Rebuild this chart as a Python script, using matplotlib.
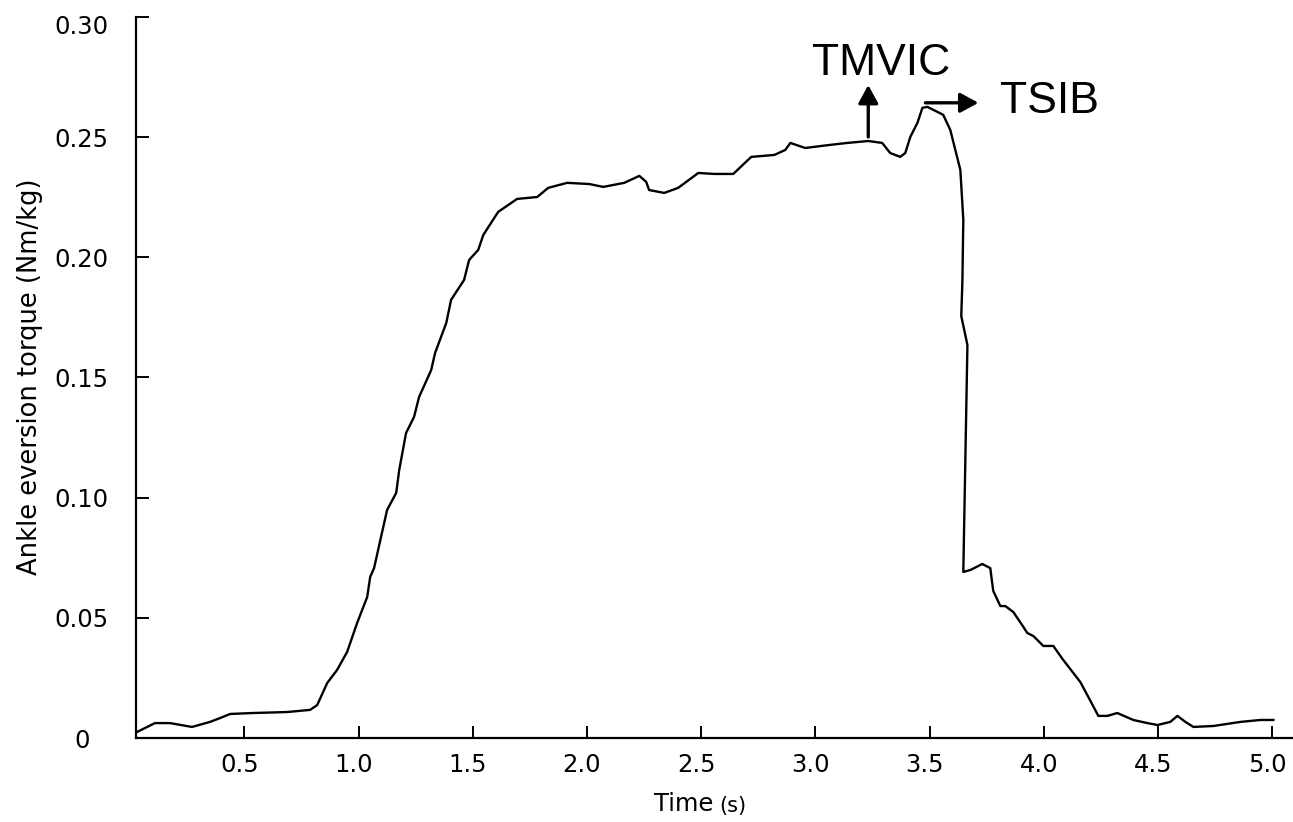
import matplotlib
matplotlib.use("Agg")
import matplotlib.pyplot as plt
from matplotlib.transforms import ScaledTranslation

# ---- data ----
time_s = [0.022, 0.109, 0.175, 0.271, 0.350, 0.394, 0.438, 0.539, 0.687, 0.788,
          0.819, 0.863, 0.906, 0.950, 0.994, 1.038, 1.051, 1.068, 1.125, 1.165,
          1.178, 1.208, 1.243, 1.265, 1.318, 1.335, 1.384, 1.405, 1.462, 1.484,
          1.524, 1.546, 1.611, 1.694, 1.782, 1.830, 1.913, 2.010, 2.071, 2.163,
          2.229, 2.259, 2.272, 2.338, 2.399, 2.487, 2.557, 2.640, 2.719, 2.820,
          2.868, 2.890, 2.955, 3.065, 3.139, 3.231, 3.292, 3.327, 3.371, 3.393,
          3.415, 3.446, 3.468, 3.490, 3.559, 3.590, 3.634, 3.647, 3.643, 3.638,
          3.665, 3.647, 3.678, 3.730, 3.765, 3.778, 3.809, 3.831, 3.866, 3.910,
          3.927, 3.954, 3.997, 4.041, 4.081, 4.159, 4.194, 4.238, 4.278, 4.321,
          4.391, 4.453, 4.497, 4.553, 4.584, 4.619, 4.654, 4.742, 4.860, 4.947,
          5.004]
torque = [0.0021, 0.0062, 0.0062, 0.0046, 0.0067, 0.0083, 0.0100, 0.0104, 0.0108, 0.0117,
          0.0137, 0.0229, 0.0283, 0.0358, 0.0479, 0.0587, 0.0670, 0.0707, 0.0949, 0.1020,
          0.1115, 0.1269, 0.1336, 0.1419, 0.1531, 0.1602, 0.1727, 0.1823, 0.1906, 0.1989,
          0.2031, 0.2093, 0.2189, 0.2243, 0.2251, 0.2289, 0.2310, 0.2305, 0.2293, 0.2310,
          0.2339, 0.2314, 0.2280, 0.2268, 0.2289, 0.2351, 0.2347, 0.2347, 0.2418, 0.2426,
          0.2447, 0.2476, 0.2455, 0.2468, 0.2476, 0.2484, 0.2476, 0.2434, 0.2418, 0.2434,
          0.2501, 0.2559, 0.2622, 0.2626, 0.2593, 0.2530, 0.2364, 0.2156, 0.1900, 0.1756,
          0.1635, 0.0691, 0.0699, 0.0724, 0.0707, 0.0612, 0.0549, 0.0549, 0.0524, 0.0462,
          0.0437, 0.0424, 0.0383, 0.0383, 0.0329, 0.0233, 0.0171, 0.0092, 0.0092, 0.0104,
          0.0075, 0.0062, 0.0054, 0.0067, 0.0092, 0.0067, 0.0046, 0.0050, 0.0067, 0.0075,
          0.0075]

x_ticks = [0.5, 1.0, 1.5, 2.0, 2.5, 3.0, 3.5, 4.0, 4.5, 5.0]
x_tick_labels = ["0.5", "1.0", "1.5", "2.0", "2.5", "3.0", "3.5", "4.0", "4.5", "5.0"]
y_ticks = [0, 0.05, 0.10, 0.15, 0.20, 0.25, 0.30]
y_tick_labels = ["0", "0.05", "0.10", "0.15", "0.20", "0.25", "0.30"]

tmvic_text = (2.986, 0.2759)
tmvic_arrow = ((3.231, 0.2501), (3.231, 0.2717))
tsib_text = (3.809, 0.2601)
tsib_arrow = ((3.481, 0.2643), (3.713, 0.2643))

# ---- figure ----
W, H = 1293, 822
fig = plt.figure(figsize=(W / 100, H / 100), dpi=100)
ax = fig.add_axes([136 / W, 1 - 738 / H, (W - 136) / W, (738 - 17) / H])

ax.plot(time_s, torque, color="black", lw=1.7, solid_joinstyle="round")

ax.set_xlim(0.026, 5.09)
ax.set_ylim(0, 0.30)

for s in ["top", "right"]:
    ax.spines[s].set_visible(False)
for s in ["left", "bottom"]:
    ax.spines[s].set_linewidth(1.6)
    ax.spines[s].set_color("black")

tick_font = "DejaVu Sans"
ax.set_xticks(x_ticks)
ax.set_xticklabels(x_tick_labels, family=tick_font, fontsize=17.5)
ax.set_yticks(y_ticks)
ax.set_yticklabels(y_tick_labels, family=tick_font, fontsize=17.5, ha="center")
ax.tick_params(axis="both", direction="in", length=9, width=1.4, color="black")
ax.tick_params(axis="x", pad=11)
ax.tick_params(axis="y", pad=39)

for lab in ax.get_xticklabels():
    lab.set_transform(lab.get_transform() + ScaledTranslation(-5 / 100, 0, fig.dpi_scale_trans))
top_lab = ax.get_yticklabels()[-1]
top_lab.set_transform(top_lab.get_transform() + ScaledTranslation(0, -7 / 100, fig.dpi_scale_trans))

ax.set_ylabel("Ankle eversion torque (Nm/kg)", family=tick_font, fontsize=18.5)
ax.yaxis.label.set_va("center")
ax.yaxis.set_label_coords((30 - 136) / (W - 136), (738 - 377) / 721)

xl = ax.set_xlabel("Time", family=tick_font, fontsize=17.5)
ax.xaxis.set_label_coords((684 - 136) / (W - 136), (738 - 792) / 721)
ax.annotate("(s)", xy=(1, 0), xycoords=xl, xytext=(4, 0), textcoords="offset points",
            ha="left", va="bottom", family=tick_font, fontsize=15)

ann_font = ["Liberation Sans", "DejaVu Sans"]
ax.text(tmvic_text[0], tmvic_text[1], "TMVIC", family=ann_font, fontsize=32,
        ha="left", va="baseline")
ax.text(tsib_text[0], tsib_text[1], "TSIB", family=ann_font, fontsize=32,
        ha="left", va="baseline")

arrow_kw = dict(arrowstyle="-|>,head_length=0.55,head_width=0.3", color="black",
                lw=2.4, shrinkA=0, shrinkB=0, mutation_scale=20)
ax.annotate("", xy=tmvic_arrow[1], xytext=tmvic_arrow[0], arrowprops=arrow_kw)
ax.annotate("", xy=tsib_arrow[1], xytext=tsib_arrow[0], arrowprops=arrow_kw)

fig.savefig("out.png", dpi=100)
